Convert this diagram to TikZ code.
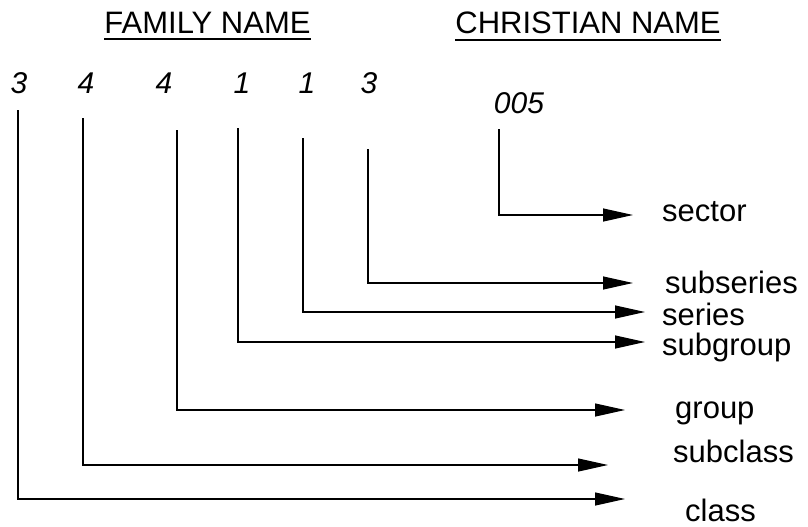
\documentclass[tikz,border=0pt]{standalone}
\usepackage{fontspec}
\setmainfont{Liberation Sans}
\usetikzlibrary{arrows.meta}
\begin{document}
\begin{tikzpicture}[x=1pt,y=-1pt,
  lbl/.style={anchor=base west,inner sep=0pt,font=\fontsize{31}{31}\selectfont},
  digit/.style={anchor=base,inner sep=0pt,font=\fontsize{30}{30}\selectfont\itshape},
  hdr/.style={anchor=base,inner sep=0pt,font=\fontsize{31}{31}\selectfont},
  uline/.style={line width=1.3pt},
  conn/.style={line width=1.2pt,-{Triangle[length=30pt,width=13pt]}}]
\useasboundingbox (0,0) rectangle (808,527);
% headers
\node[hdr] (fam) at (207.5,34) {FAMILY NAME};
\node[hdr] (chr) at (588,34) {CHRISTIAN NAME};
\draw[uline] ([yshift=-5pt]fam.base west) -- ([yshift=-5pt]fam.base east);
\draw[uline] ([yshift=-6pt]chr.base west) -- ([yshift=-6pt]chr.base east);
% digits
\node[digit] (d1) at (19,93) {3};
\node[digit] (d2) at (86,93) {4};
\node[digit] (d3) at (164,93) {4};
\node[digit] (d4) at (242,93) {1};
\node[digit] (d5) at (307,93) {1};
\node[digit] (d6) at (369,93) {3};
\node[digit] (d7) at (519,113) {005};
% tops of lines
\coordinate (t1) at (18,110);
\coordinate (t2) at (83,118);
\coordinate (t3) at (177,130);
\coordinate (t4) at (238,128);
\coordinate (t5) at (303,138);
\coordinate (t6) at (368,149);
\coordinate (t7) at (499,129);
% arrow tips
\coordinate (e1) at (625,499);
\coordinate (e2) at (608,465);
\coordinate (e3) at (625,410);
\coordinate (e4) at (645,342);
\coordinate (e5) at (645,312);
\coordinate (e6) at (633,283);
\coordinate (e7) at (633,215);
% labels
\node[lbl] (l1) at (685,521) {class};
\node[lbl] (l2) at (673,462) {subclass};
\node[lbl] (l3) at (675,418) {group};
\node[lbl] (l4) at (662,355) {subgroup};
\node[lbl] (l5) at (662,325) {series};
\node[lbl] (l6) at (665,293) {subseries};
\node[lbl] (l7) at (662,221) {sector};
% connectors
\foreach \i in {1,...,7} {\draw[conn] (t\i) |- (e\i);}
\end{tikzpicture}
\end{document}
